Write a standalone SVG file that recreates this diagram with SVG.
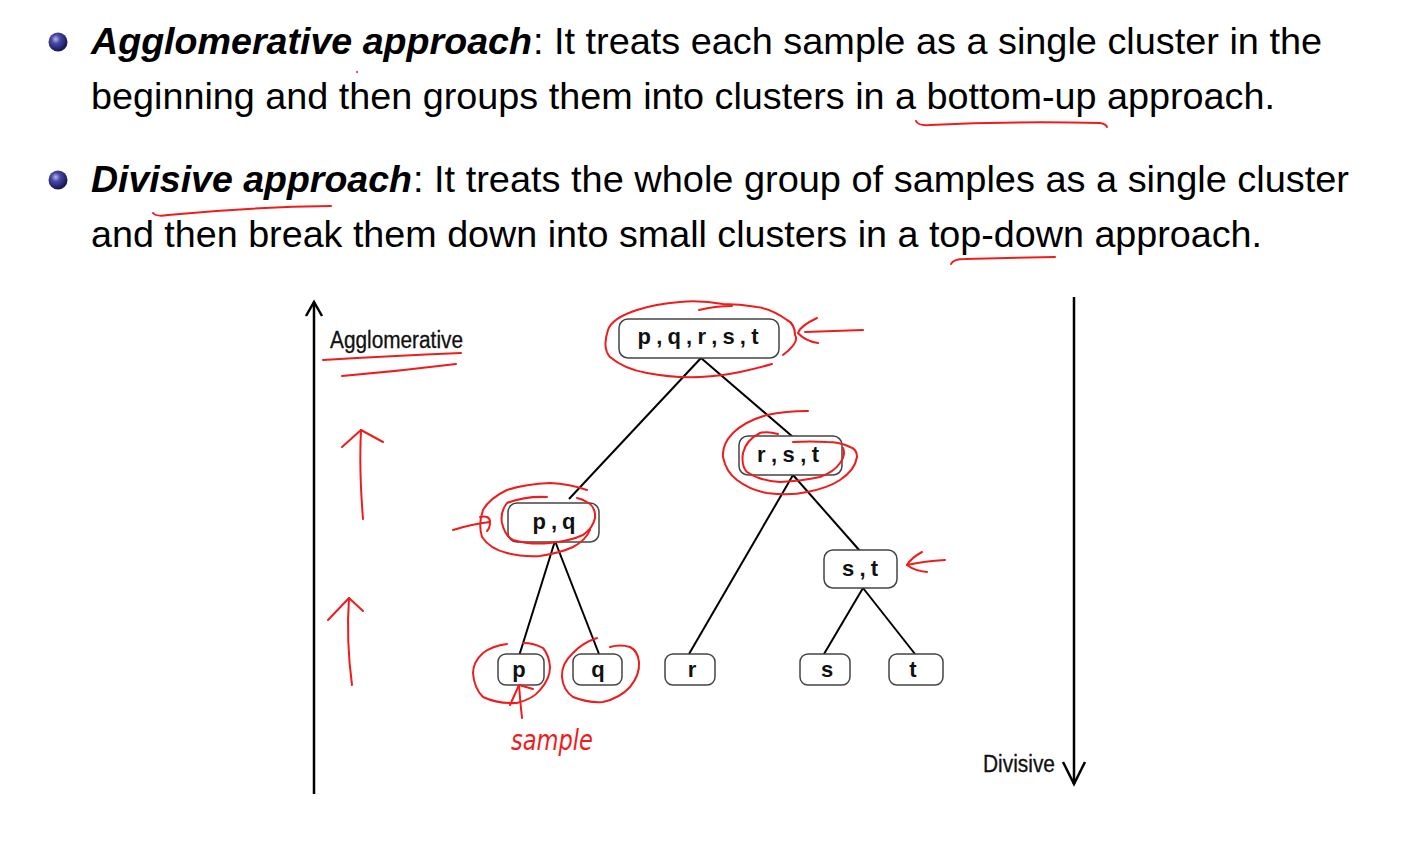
<svg xmlns="http://www.w3.org/2000/svg" width="1424" height="848" viewBox="0 0 1424 848">
<defs>
<radialGradient id="ball" cx="0.38" cy="0.35" r="0.65">
<stop offset="0" stop-color="#b8b8f0"/>
<stop offset="0.35" stop-color="#4a4aa8"/>
<stop offset="1" stop-color="#141450"/>
</radialGradient>
</defs>
<style>
.body{font-family:"Liberation Sans",Arial,sans-serif;font-size:37px;fill:#000}
.bi{font-weight:bold;font-style:italic}
.node rect{fill:#fff;stroke:#444;stroke-width:1.5}
.node text{font-family:"Liberation Sans",Arial,sans-serif;font-size:22px;font-weight:bold;fill:#111;text-anchor:middle}
.edge{stroke:#000;stroke-width:2;fill:none}
.axis{stroke:#000;stroke-width:2.5;fill:none}
.lbl{font-family:"Liberation Sans",Arial,sans-serif;font-size:23px;fill:#111;stroke:#111;stroke-width:0.3}
.ink{stroke:#ee1c1c;stroke-width:2;fill:none;stroke-linecap:round;stroke-linejoin:round}
</style>
<rect width="1424" height="848" fill="#fff"/>

<g id="bullets">
<circle cx="58" cy="42" r="9.5" fill="url(#ball)"/>
<circle cx="58" cy="180" r="9.5" fill="url(#ball)"/>
<text class="body bi" x="91" y="54" textLength="441" lengthAdjust="spacingAndGlyphs">Agglomerative approach</text>
<text class="body" x="533" y="54" textLength="789" lengthAdjust="spacingAndGlyphs">: It treats each sample as a single cluster in the</text>
<text class="body" x="91" y="109" textLength="1184" lengthAdjust="spacingAndGlyphs">beginning and then groups them into clusters in a bottom-up approach.</text>
<text class="body bi" x="91" y="192" textLength="321" lengthAdjust="spacingAndGlyphs">Divisive approach</text>
<text class="body" x="413" y="192" textLength="936" lengthAdjust="spacingAndGlyphs">: It treats the whole group of samples as a single cluster</text>
<text class="body" x="91" y="247" textLength="1171" lengthAdjust="spacingAndGlyphs">and then break them down into small clusters in a top-down approach.</text>
</g>

<g id="axes">
<line class="axis" x1="314" y1="302" x2="314" y2="794"/>
<polyline class="axis" points="306,316 314,302 322,316"/>
<text class="lbl" x="330" y="348" textLength="133" lengthAdjust="spacingAndGlyphs">Agglomerative</text>
<line class="axis" x1="1074" y1="297" x2="1074" y2="784"/>
<polyline class="axis" points="1063,762 1074,784 1085,762"/>
<text class="lbl" x="983" y="772" textLength="72" lengthAdjust="spacingAndGlyphs">Divisive</text>
</g>

<g id="connectors">
<line class="edge" x1="701" y1="358" x2="569" y2="499"/>
<line class="edge" x1="701" y1="358" x2="793" y2="437"/>
<line class="edge" x1="793" y1="475" x2="689" y2="654"/>
<line class="edge" x1="793" y1="475" x2="860" y2="551"/>
<line class="edge" x1="555" y1="541" x2="519" y2="656"/>
<line class="edge" x1="555" y1="541" x2="599" y2="654"/>
<line class="edge" x1="863" y1="588" x2="824" y2="654"/>
<line class="edge" x1="863" y1="588" x2="915" y2="654"/>
</g>

<g id="n-pqrst" class="node"><rect x="619" y="319" width="160" height="39" rx="9"/><text x="698" y="344" textLength="121" lengthAdjust="spacing">p , q , r , s , t</text></g>
<g id="n-rst" class="node"><rect x="739" y="436" width="103" height="39" rx="9"/><text x="788" y="462" textLength="62" lengthAdjust="spacing">r , s , t</text></g>
<g id="n-pq" class="node"><rect x="508" y="503" width="91" height="39" rx="9"/><text x="554" y="529" textLength="43" lengthAdjust="spacing">p , q</text></g>
<g id="n-st" class="node"><rect x="824" y="550" width="73" height="38" rx="9"/><text x="860" y="576" textLength="36" lengthAdjust="spacing">s , t</text></g>
<g id="n-p" class="node"><rect x="498" y="654" width="46" height="31" rx="8"/><text x="519" y="677">p</text></g>
<g id="n-q" class="node"><rect x="573" y="654" width="49" height="31" rx="8"/><text x="598" y="677">q</text></g>
<g id="n-r" class="node"><rect x="665" y="654" width="50" height="31" rx="8"/><text x="692" y="677">r</text></g>
<g id="n-s" class="node"><rect x="800" y="654" width="50" height="31" rx="8"/><text x="827" y="677">s</text></g>
<g id="n-t" class="node"><rect x="889" y="654" width="54" height="31" rx="8"/><text x="913" y="677">t</text></g>

<g id="annotations">
<path class="ink" d="M916,121 Q918,126 930,125 Q1010,121 1100,123 Q1106,124 1107,127"/>
<path class="ink" d="M951,264 Q953,259 965,259 Q1010,258 1055,257"/>
<path class="ink" d="M153,213 Q156,217 168,215 Q250,207 331,206"/>
<circle cx="357" cy="72" r="1" fill="#ee1c1c"/>
<path class="ink" d="M323,360 Q390,356 461,353"/>
<path class="ink" d="M342,376 Q400,371 456,364"/>
<path class="ink" d="M363,519 Q359,470 361,430"/>
<path class="ink" d="M342,447 L361,430 L383,442"/>
<path class="ink" d="M352,685 Q346,640 349,598"/>
<path class="ink" d="M328,620 L349,598 L363,611"/>
<path class="ink" d="M783,355 Q800,342 795,335 Q795,324 787,320 Q772,309 757,307 Q740,304 723,304 Q700,300 680,302 Q655,304 637,310 Q612,318 608,330 Q602,348 610,357 Q624,369 647,373 Q672,378 700,377 Q722,376 740,372 Q758,368 772,364"/>
<path class="ink" d="M699,310 Q715,306 732,306"/>
<path class="ink" d="M863,330 Q835,331 805,332"/>
<path class="ink" d="M817,318 Q800,326 798,333 Q805,341 818,343"/>
<path class="ink" d="M808,411 Q785,411 767,415 Q745,421 733,433 Q722,444 723,457 Q726,472 737,480 Q750,490 767,493 Q790,496 807,492 Q828,488 840,480 Q855,470 857,457 Q857,449 850,447 Q840,442 827,442 Q810,441 793,442"/>
<path class="ink" d="M778,434 Q768,431 760,433 Q746,440 743,453 Q741,466 747,472 Q760,481 780,482 Q802,481 820,477 Q834,472 840,463 Q846,455 843,448"/>
<path class="ink" d="M587,490 Q570,484 550,483 Q525,484 507,490 Q490,498 483,510 Q478,524 482,537 Q490,549 507,553 Q522,557 540,556 Q560,553 573,547 Q586,540 590,530"/>
<path class="ink" d="M547,497 Q525,496 507,503 Q500,512 502,523 Q505,536 513,540 Q530,545 550,543 Q570,541 583,535 Q593,528 595,518 Q596,507 587,502 Q582,499 577,498"/>
<path class="ink" d="M453,530 Q472,524 490,522"/>
<path class="ink" d="M480,517 Q490,515 490,522 Q490,528 487,531"/>
<path class="ink" d="M507,644 Q492,646 483,653 Q473,662 473,673 Q474,688 483,697 Q498,704 517,703 Q533,699 540,690 Q550,679 550,667 Q549,655 543,648 Q534,643 523,643"/>
<path class="ink" d="M597,638 Q582,643 573,653 Q561,664 562,677 Q563,690 573,697 Q588,703 603,702 Q620,698 630,687 Q640,675 639,662 Q638,651 630,647 Q620,644 610,647"/>
<path class="ink" d="M522,718 Q520,700 519,685"/>
<path class="ink" d="M510,705 L519,685 L533,689"/>
<path class="ink" d="M945,560 Q925,561 907,565"/>
<path class="ink" d="M922,552 Q911,558 907,565 Q915,571 927,572"/>
<text x="511" y="750" font-family="'DejaVu Sans',sans-serif" font-style="italic" font-size="28" fill="#ee1c1c" textLength="82" lengthAdjust="spacingAndGlyphs">sample</text>
</g>
</svg>
